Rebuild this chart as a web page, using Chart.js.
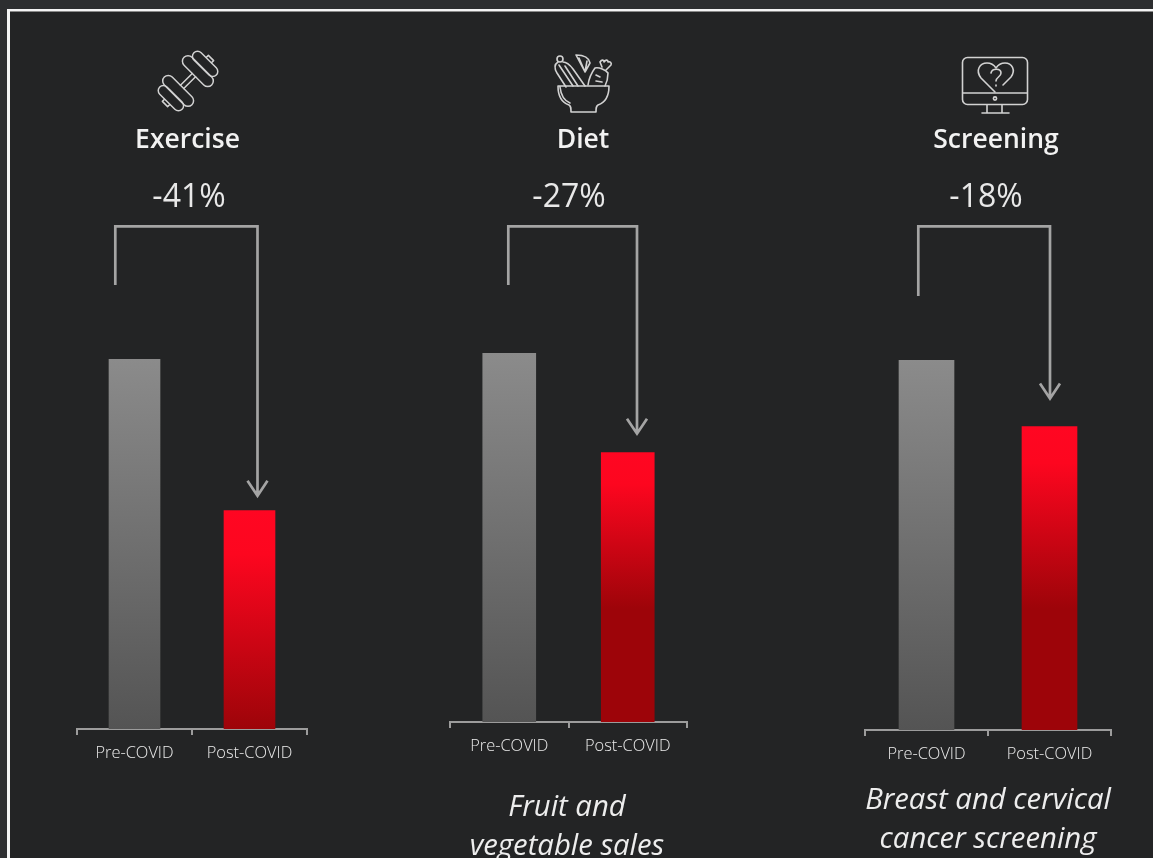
<!DOCTYPE html>
<html>
<head>
<meta charset="utf-8">
<script src="https://cdn.jsdelivr.net/npm/chart.js@4/dist/chart.umd.min.js"></script>
<style>
  html, body { margin: 0; padding: 0; background: #2d2e30; }
  body { width: 1153px; height: 858px; position: relative; overflow: hidden; font-family: "Open Sans", sans-serif; color: #f2f2f2; }
  #frame { position: absolute; left: 7px; top: 9px; width: 1146px; height: 849px; background: #232425; border: solid #f4f4f4; border-width: 2px 0 0 3px; box-sizing: border-box; box-shadow: inset 0 1px 0 #8a8a8a; }
  canvas.panel { position: absolute; top: 0; }
  .title, .change, .caption, svg.icon { position: absolute; }
  .title { font-weight: 600; font-size: 26.5px; line-height: 30px; text-align: center; width: 240px; top: 123px; }
  .change { font-size: 32px; line-height: 36px; text-align: center; width: 200px; top: 177px; color: #e8e8e8; }
  .caption { font-style: italic; font-size: 29.3px; line-height: 39px; text-align: center; width: 320px; color: #ededed; }
  svg.icon { overflow: visible; fill: none; stroke: #d2d2d2; stroke-width: 1.6; stroke-linejoin: round; stroke-linecap: round; }
</style>
</head>
<body>
<div id="frame"></div>
<script>
const categories = ["Pre-COVID", "Post-COVID"];
const exerciseValues = [100, 59];
const dietValues = [100, 73];
const screeningValues = [100, 82];
const panelTitles = ["Exercise", "Diet", "Screening"];
const changeLabels = ["-41%", "-27%", "-18%"];
const captionLines = [[], ["Fruit and", "vegetable sales"], ["Breast and cervical", "cancer screening"]];

// left/right = x extent of the axis, base = y of the axis, full = pixel height of 100, bar = bar width
const panels = [
  { values: exerciseValues, left: 77, right: 307, base: 729, full: 370, bar: 51, darkAt: 1, titleX: 187.5, changeX: 189, dropX: 115.3, dropEnd: 285, arrowX: 257.5, tipGap: 13 },
  { values: dietValues, left: 450, right: 687, base: 722, full: 369, bar: 53, darkAt: 0.58, titleX: 583, changeX: 569, dropX: 508.3, dropEnd: 285, arrowX: 637, tipGap: 17, captionX: 567, captionTop: 786 },
  { values: screeningValues, left: 865, right: 1111, base: 730, full: 370, bar: 55, darkAt: 0.6, titleX: 996, changeX: 986, dropX: 918.3, dropEnd: 296, arrowX: 1050, tipGap: 26, captionX: 988, captionTop: 779 }
];
const bracketTop = 226.3;

const iconMarkup = [
  `<svg class="icon" style="left:155px;top:51px" width="66" height="60" viewBox="0 0 66 60">
     <g transform="rotate(-45 33 30) translate(33 30) scale(0.93) translate(-33 -30)">
       <rect x="1.500" y="13" width="11" height="34" rx="5.500"/><rect x="12" y="9" width="12" height="42" rx="6"/>
       <rect x="42" y="9" width="12" height="42" rx="6"/><rect x="53.500" y="13" width="11" height="34" rx="5.500"/>
       <path d="M24 27.500H42M24 32.500H42M1 26H-2V34H1M65 26H68V34H65"/>
     </g></svg>`,
  `<svg class="icon" style="left:552px;top:54px" width="62" height="60" viewBox="0 0 62 60">
     <path d="M6 32H57C57 43 52 49 46 51C44 52 44 54 44 58H19C19 54 19 52 17 51C11 49 6 43 6 32Z M8 33C9 42 13 47 18 49"/>
     <circle cx="8" cy="5" r="3"/>
     <path d="M6 8C3 10 2 14 5 19L14 33M11 8C15 8 18 11 21 15L33 32M7 11L21 32M13 12L26 32"/>
     <path d="M24 1C32 1 37 4 38 9L33 18Z M27 4L33 18L35 7"/>
     <path d="M36 31C37 24 40 18 43 14C47 13 54 16 56 19C56 24 55 28 53 32M50 13L48 8C50 5 52 6 52 8C54 5 56 6 56 8C58 7 60 9 59 11L54 16M44 21L48 23M44 27L50 28"/>
   </svg>`,
  `<svg class="icon" style="left:961px;top:56px" width="68" height="60" viewBox="0 0 68 60">
     <rect x="1.500" y="1.500" width="65" height="47" rx="5"/><path d="M2 37H66M26 49V57M41 49V57M21 57H48"/>
     <circle cx="34" cy="42.500" r="1.600"/>
     <path d="M34 36L20 22C14 14 19 7 26 7C30 7 33 9 35 12C37 9 40 7 44 7C51 7 55 14 50 21L42 29"/>
     <path d="M30 17C31 12 40 12 40 17C40 21 35 21 35 25M35 29V30"/>
   </svg>`
];

// bracket from the pre-COVID bar down to the post-COVID bar, ending in an open arrow head
const bracketPlugin = {
  id: "bracket",
  afterDatasetsDraw(chart, args, opts) {
    const { ctx, scales } = chart;
    const value = chart.data.datasets[0].data[1];
    const tipY = scales.y.getPixelForValue(value) - opts.tipGap;
    ctx.save();
    ctx.strokeStyle = "#a4a4a4";
    ctx.lineWidth = 2.7;
    ctx.lineJoin = "miter";
    ctx.beginPath();
    ctx.moveTo(opts.dropX, opts.dropEnd);
    ctx.lineTo(opts.dropX, bracketTop);
    ctx.lineTo(opts.arrowX, bracketTop);
    ctx.lineTo(opts.arrowX, tipY - 2);
    ctx.moveTo(opts.arrowX - 10, tipY - 17);
    ctx.lineTo(opts.arrowX, tipY - 2);
    ctx.lineTo(opts.arrowX + 10, tipY - 17);
    ctx.stroke();
    ctx.restore();
  }
};

function barGradient(context) {
  const { chart, dataIndex } = context;
  const area = chart.chartArea;
  if (!area) return "#888";
  const top = chart.scales.y.getPixelForValue(chart.data.datasets[0].data[dataIndex]);
  const g = chart.ctx.createLinearGradient(0, top, 0, area.bottom);
  if (dataIndex === 0) {
    g.addColorStop(0, "#8b8b8b");
    g.addColorStop(1, "#545454");
  } else {
    const darkAt = chart.options.plugins.bracket.darkAt;
    g.addColorStop(0, "#ff0622");
    g.addColorStop(darkAt * 0.2, "#fd061f");
    g.addColorStop(darkAt, "#9d0409");
    g.addColorStop(1, "#9d0409");
  }
  return g;
}

panels.forEach((p, i) => {
  const canvas = document.createElement("canvas");
  canvas.className = "panel";
  canvas.style.left = "0px";
  canvas.width = 1153;
  canvas.height = 858;
  document.body.appendChild(canvas);

  new Chart(canvas.getContext("2d"), {
    type: "bar",
    data: {
      labels: categories,
      datasets: [{ data: p.values, backgroundColor: barGradient, barThickness: p.bar, borderWidth: 0 }]
    },
    plugins: [bracketPlugin],
    options: {
      responsive: false,
      animation: false,
      // plot area is sized so that 100 on the y axis spans p.full
      layout: { padding: { left: p.left, right: 1153 - p.right, top: p.base - p.full, bottom: 0 } },
      plugins: { legend: { display: false }, tooltip: { enabled: false }, bracket: { dropX: p.dropX, dropEnd: p.dropEnd, arrowX: p.arrowX, tipGap: p.tipGap, darkAt: p.darkAt } },
      scales: {
        y: { display: false, min: 0, max: 100 },
        x: {
          offset: true,
          afterFit(scale) { scale.height = 858 - p.base; },
          border: { display: true, color: "#9c9c9c", width: 2 },
          grid: { display: true, drawOnChartArea: false, drawTicks: true, tickLength: 6, color: "#9c9c9c", lineWidth: 2, offset: true },
          ticks: { color: "#ececec", font: { family: "Open Sans", size: 16.4, weight: "300" }, padding: 8, maxRotation: 0 }
        }
      }
    }
  });

  const title = document.createElement("div");
  title.className = "title";
  title.textContent = panelTitles[i];
  title.style.left = (p.titleX - 120) + "px";
  document.body.appendChild(title);

  const change = document.createElement("div");
  change.className = "change";
  change.textContent = changeLabels[i];
  change.style.left = (p.changeX - 100) + "px";
  document.body.appendChild(change);

  captionLines[i].forEach((line, n) => {
    const cap = document.createElement("div");
    cap.className = "caption";
    cap.textContent = line;
    cap.style.left = (p.captionX - 160) + "px";
    cap.style.top = (p.captionTop + n * 39) + "px";
    document.body.appendChild(cap);
  });

  document.body.insertAdjacentHTML("beforeend", iconMarkup[i]);
});
</script>
</body>
</html>
